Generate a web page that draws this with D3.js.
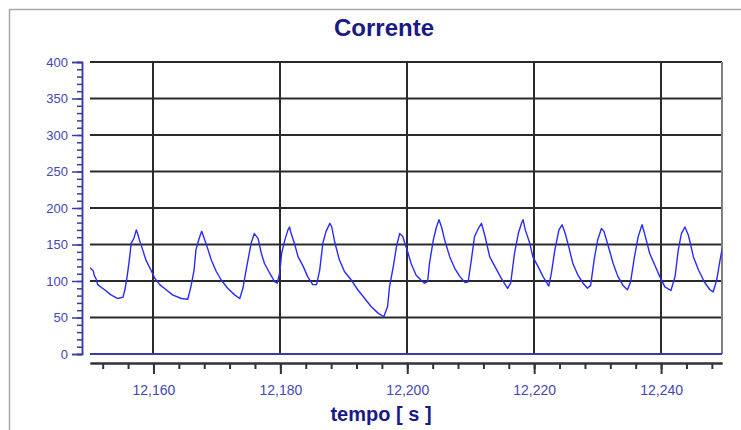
<!DOCTYPE html>
<html>
<head>
<meta charset="utf-8">
<script src="https://cdn.jsdelivr.net/npm/d3@7"></script>
<style>
  body { margin: 0; background: #fff; }
  svg { display: block; }
</style>
</head>
<body>
<script>
// Chart data
var title = "Corrente";
var xLabel = "tempo [ s ]";
var yTicks = [0, 50, 100, 150, 200, 250, 300, 350, 400];
var xTicks = [12160, 12180, 12200, 12220, 12240];

var time = [
  12150.0, 12150.5, 12150.7, 12151.0, 12151.2, 12152.3, 12153.3, 12154.4, 12155.2, 12155.5,
  12155.85, 12156.2, 12156.5, 12156.9, 12157.3, 12157.5, 12157.8, 12158.3, 12158.8, 12159.6,
  12160.2, 12161.0, 12162.0, 12163.0, 12164.4, 12165.4, 12165.9, 12166.4, 12166.7, 12167.3,
  12167.6, 12167.9, 12168.6, 12169.1, 12169.9, 12170.7, 12171.7, 12172.8, 12173.6, 12174.1,
  12174.6, 12174.9, 12175.4, 12175.9, 12176.5, 12177.0, 12177.5, 12178.3, 12179.1, 12179.5,
  12179.9, 12180.2, 12180.7, 12181.2, 12181.45, 12181.7, 12182.2, 12182.8, 12183.6, 12184.3,
  12185.1, 12185.7, 12186.2, 12186.7, 12187.2, 12187.8, 12188.1, 12188.6, 12189.3, 12190.1,
  12191.2, 12192.2, 12193.3, 12194.3, 12195.4, 12196.3, 12196.9, 12197.2, 12197.8, 12198.3,
  12198.8, 12199.3, 12199.6, 12200.0, 12200.6, 12201.4, 12202.2, 12202.7, 12203.2, 12203.5,
  12204.1, 12204.6, 12205.0, 12205.4, 12205.9, 12206.7, 12207.5, 12208.3, 12209.1, 12209.6,
  12210.1, 12210.6, 12211.2, 12211.7, 12212.2, 12213.0, 12213.8, 12214.8, 12215.8, 12216.3,
  12216.9, 12217.5, 12218.0, 12218.25, 12218.6, 12219.3, 12219.8, 12220.6, 12221.4, 12222.3,
  12222.7, 12223.25, 12223.9, 12224.4, 12224.9, 12225.5, 12226.1, 12226.9, 12227.7, 12228.4,
  12228.9, 12229.45, 12230.0, 12230.6, 12231.0, 12231.7, 12232.45, 12233.2, 12234.0, 12234.7,
  12235.2, 12235.8, 12236.4, 12237.0, 12237.4, 12238.2, 12239.0, 12239.8, 12240.6, 12241.55,
  12242.2, 12242.7, 12243.2, 12243.75, 12244.3, 12245.1, 12245.9, 12246.8, 12247.7, 12248.2,
  12248.75, 12249.3, 12249.65
];
var current = [
  118, 114, 107, 102, 95, 88, 81, 76, 78, 88,
  106, 129, 152, 158, 170, 165, 156, 143, 129, 115,
  104, 95, 88, 81, 76, 75, 92, 115, 143, 161,
  168, 161, 143, 129, 113, 101, 90, 81, 76, 90,
  115, 129, 152, 165, 158, 138, 124, 111, 99, 97,
  111, 138, 156, 170, 174, 165, 152, 133, 120, 106,
  95, 95, 115, 152, 168, 179, 174, 152, 129, 113,
  101, 88, 76, 65, 56, 51, 65, 92, 120, 147,
  165, 161, 152, 142, 124, 108, 101, 97, 99, 124,
  156, 174, 184, 174, 156, 133, 117, 106, 98, 99,
  129, 161, 172, 179, 163, 133, 120, 104, 90, 97,
  138, 165, 179, 184, 170, 152, 133, 120, 106, 93,
  110, 142, 170, 177, 165, 145, 124, 108, 97, 90,
  94, 129, 156, 172, 168, 147, 124, 106, 94, 88,
  99, 133, 161, 177, 165, 138, 122, 106, 92, 87,
  106, 142, 165, 174, 163, 133, 115, 99, 88, 85,
  101, 129, 145
];

var svgWidth = 741;
var svgHeight = 430;

var plot = { left: 90, right: 722, top: 62, bottom: 354 };

var svg = d3.select("body")
  .append("svg")
  .attr("width", svgWidth)
  .attr("height", svgHeight);

// outer frame
svg.append("path")
  .attr("d", `M9.5,${svgHeight} V9.5 H${svgWidth}`)
  .attr("fill", "none")
  .attr("stroke", "#a8a8a8")
  .attr("stroke-width", 1.5);

var xScale = d3.scaleLinear()
  .domain([12150, 12249.6])
  .range([plot.left, plot.right]);

var yScale = d3.scaleLinear()
  .domain([0, 400])
  .range([plot.bottom, plot.top]);

// title
svg.append("text")
  .attr("x", 384)
  .attr("y", 36)
  .attr("text-anchor", "middle")
  .attr("font-family", "Arial, 'Liberation Sans', sans-serif")
  .attr("font-weight", "bold")
  .attr("font-size", 24)
  .attr("fill", "#1a1a86")
  .text(title);

// grid
var grid = svg.append("g");
grid.selectAll(".hgrid")
  .data(yTicks.filter(d => d > 0))
  .enter()
  .append("line")
  .attr("x1", plot.left)
  .attr("x2", plot.right)
  .attr("y1", d => yScale(d))
  .attr("y2", d => yScale(d))
  .attr("stroke", "#2a2a2a")
  .attr("stroke-width", 2);

grid.selectAll(".vgrid")
  .data(xTicks)
  .enter()
  .append("line")
  .attr("x1", d => Math.round(xScale(d)))
  .attr("x2", d => Math.round(xScale(d)))
  .attr("y1", plot.top)
  .attr("y2", plot.bottom)
  .attr("stroke", "#2a2a2a")
  .attr("stroke-width", 2);

// right border
svg.append("line")
  .attr("x1", plot.right)
  .attr("x2", plot.right)
  .attr("y1", plot.top)
  .attr("y2", plot.bottom)
  .attr("stroke", "#808080")
  .attr("stroke-width", 2);

// zero line (blue)
svg.append("line")
  .attr("x1", plot.left)
  .attr("x2", plot.right)
  .attr("y1", yScale(0))
  .attr("y2", yScale(0))
  .attr("stroke", "#3a3aa8")
  .attr("stroke-width", 2);

// y axis with minor ticks
var yAxisG = svg.append("g")
  .attr("transform", "translate(82,0)");

yAxisG.call(d3.axisLeft(yScale).tickValues(d3.range(0, 401, 10)).tickSize(5).tickFormat(""));
yAxisG.append("g")
  .call(d3.axisLeft(yScale).tickValues(yTicks).tickSize(10).tickPadding(4));

yAxisG.selectAll("path.domain")
  .attr("stroke", "#3a3aa8")
  .attr("stroke-width", 1.5);
yAxisG.selectAll(".tick line")
  .attr("stroke", "#3a3aa8")
  .attr("stroke-width", 1.5);
yAxisG.selectAll(".tick text")
  .attr("font-family", "Arial, 'Liberation Sans', sans-serif")
  .attr("font-size", 13)
  .attr("fill", "#4646b4");

// x axis with minor ticks
var xAxisG = svg.append("g")
  .attr("transform", "translate(0,363)");

xAxisG.call(d3.axisBottom(xScale).tickValues(d3.range(12152, 12249, 4)).tickSize(6).tickFormat("").tickSizeOuter(0));
xAxisG.append("g")
  .call(d3.axisBottom(xScale)
    .tickValues(xTicks)
    .tickSize(11)
    .tickPadding(11)
    .tickSizeOuter(0)
    .tickFormat(d3.format(",")));

xAxisG.selectAll("path.domain")
  .attr("stroke", "#333")
  .attr("stroke-width", 2);
xAxisG.selectAll(".tick line")
  .attr("stroke", "#333")
  .attr("stroke-width", 2);
xAxisG.selectAll(".tick text")
  .attr("font-family", "Arial, 'Liberation Sans', sans-serif")
  .attr("font-size", 14)
  .attr("fill", "#4646b4");

// x axis title
svg.append("text")
  .attr("x", 381)
  .attr("y", 421)
  .attr("text-anchor", "middle")
  .attr("font-family", "Arial, 'Liberation Sans', sans-serif")
  .attr("font-weight", "bold")
  .attr("font-size", 20)
  .attr("fill", "#1a1a86")
  .text(xLabel);

// the current trace
svg.append("clipPath")
  .attr("id", "clip")
  .append("rect")
  .attr("x", plot.left)
  .attr("y", plot.top)
  .attr("width", plot.right - plot.left)
  .attr("height", plot.bottom - plot.top);

var line = d3.line()
  .x((d, i) => xScale(time[i]))
  .y(d => yScale(d));

svg.append("path")
  .datum(current)
  .attr("clip-path", "url(#clip)")
  .attr("d", line)
  .attr("fill", "none")
  .attr("stroke", "#2a2aff")
  .attr("stroke-width", 1.4)
  .attr("stroke-linejoin", "round");
</script>
</body>
</html>
